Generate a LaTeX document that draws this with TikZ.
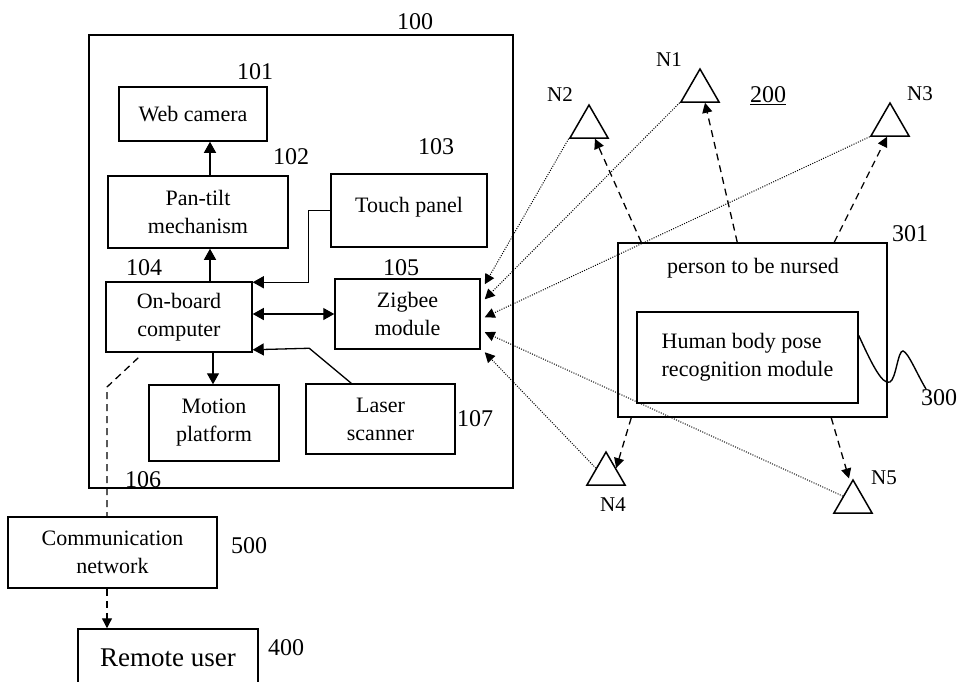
\documentclass[tikz,border=0pt]{standalone}
\usepackage{fontspec}
\setmainfont{Liberation Serif}
\usetikzlibrary{arrows.meta,calc,shapes.geometric}

\begin{document}
\begin{tikzpicture}[
            x=1pt, y=-1pt,
            block/.style={draw, line width=1.5pt, inner sep=2pt, align=center, font=\fontsize{22}{28}\selectfont},
            tag/.style={inner sep=0pt, font=\fontsize{24}{28}\selectfont},
            nodename/.style={inner sep=0pt, font=\fontsize{21}{24}\selectfont},
            sensor/.style={draw, line width=1.5pt, regular polygon, regular polygon sides=3, minimum size=44pt, inner sep=0pt},
            link/.style={line width=1.3pt, -{Triangle[length=11pt,width=12pt]}},
            radio/.style={line width=1.3pt, dash pattern=on 7pt off 5pt, -{Triangle[length=10pt,width=10pt]}},
            wireless/.style={line width=1pt, dash pattern=on 1pt off 1.4pt, -{Triangle[length=10pt,width=10pt]}},
        ]

            \useasboundingbox (0,0) rectangle (959,681);

            % robot 100
            \node[block, minimum width=424pt, minimum height=453pt] (robot) at (301,261.5) {};
            \node[tag] (robottag) at (415,22) {100};

            \node[block, minimum width=148pt, minimum height=54pt] (cam) at (193,114) {Web camera};
            \node[block, minimum width=180pt, minimum height=72pt] (pantilt) at (198,212) {Pan-tilt\\mechanism};
            \node[block, minimum width=156pt, minimum height=73pt, text depth=12pt] (touch) at (409,210.5) {Touch panel};
            \node[block, minimum width=146pt, minimum height=70pt] (comp) at (179,317) {On-board\\computer};
            \node[block, minimum width=145pt, minimum height=70pt] (zig) at (407.5,314) {Zigbee\\module};
            \node[block, minimum width=130pt, minimum height=76pt] (motion) at (214,423) {Motion\\platform};
            \node[block, minimum width=149pt, minimum height=70pt] (laser) at (380.5,419) {Laser\\scanner};

            \node[tag] (camtag) at (255,72) {101};
            \node[tag] (pantilttag) at (291,157) {102};
            \node[tag] (touchtag) at (436,147) {103};
            \node[tag] (comptag) at (144,268) {104};
            \node[tag] (zigtag) at (401,268) {105};
            \node[tag] (nettag) at (143,480) {106};
            \node[tag] (lasertag) at (475,419) {107};

            % network and remote user
            \node[block, minimum width=209pt, minimum height=71pt] (comm) at (112.5,552.5) {Communication\\network};
            \node[block, minimum width=180pt, minimum height=58pt, font=\fontsize{27}{30}\selectfont] (remote) at (168,658) {Remote user};
            \node[tag] (commtag) at (249,546) {500};
            \node[tag] (remotetag) at (286,648) {400};

            % wired links in the robot
            \draw[link] ([xshift=12pt]pantilt.north) -- ([xshift=12pt]pantilt.north |- cam.south);
            \draw[link] ([xshift=31pt]comp.north) -- ([xshift=31pt]comp.north |- pantilt.south);
            \draw[link] ([xshift=34pt]comp.south) -- ([xshift=34pt]comp.south |- motion.north);
            \draw[link] (touch.west) -- ++(-22,0) |- ([yshift=-1pt]comp.north east);
            \draw[link] ($(laser.north west)+(46,0)$) -- ++(-42,-35) -- ([yshift=3pt]comp.south east);
            \draw[link, {Triangle[length=11pt,width=12pt]}-{Triangle[length=11pt,width=12pt]}] (comp.east |- zig.west) -- (zig.west);

            \coordinate (bend) at (107,387);
            \draw[line width=1.3pt, dash pattern=on 7pt off 5pt] ($(comp.south west)+(33,5)$) -- (bend) -- (bend |- comm.north);
            \draw[radio] (bend |- comm.south) -- (bend |- remote.north);

            % person 301 with module 300
            \node[block, minimum width=269pt, minimum height=174pt] (nursed) at (752.5,330) {};
            \node[block, draw=none] (nursedtitle) at (753,268) {person to be nursed};
            \node[block, align=left, minimum width=221pt, minimum height=91pt] (pose) at (747.5,357.5) {Human body pose\\recognition module};
            \node[tag] (nursedtag) at (910,234) {301};
            \node[tag] (posetag) at (939,398) {300};
            \draw[line width=1.4pt] ([yshift=22pt]pose.east) .. controls (870,360) and (882,386) .. (890,382)
                .. controls (896,379) and (898,350) .. (903,351) .. controls (908,352) and (917,374) .. (926,389);

            % zigbee nodes 200
            \node[sensor] (N1) at (700,91) {};
            \node[sensor] (N2) at (589,127) {};
            \node[sensor] (N3) at (890,125) {};
            \node[sensor] (N4) at (606,474) {};
            \node[sensor] (N5) at (853,502) {};
            \node[nodename] (N1name) at (669,60) {N1};
            \node[nodename] (N2name) at (560,95) {N2};
            \node[nodename] (N3name) at (920,94) {N3};
            \node[nodename] (N4name) at (613,505) {N4};
            \node[nodename] (N5name) at (884,478) {N5};
            \node[tag] (areatag) at (768,96) {\underline{200}};

            \draw[radio] ($(nursed.north west)+(24,0)$) -- ([xshift=6pt]N2.south);
            \draw[radio] ($(nursed.north west)+(120,0)$) -- ([xshift=5pt]N1.south);
            \draw[radio] ($(nursed.north west)+(217,0)$) -- ([xshift=-3pt]N3.south);
            \draw[radio] ($(nursed.south west)+(14,0)$) -- (N4.side 3);
            \draw[radio] ($(nursed.south west)+(214,0)$) -- ([xshift=-4pt]N5.corner 1);

            \draw[wireless] (N2.corner 2) -- ($(zig.north east)+(4,6)$);
            \draw[wireless] (N1.corner 2) -- ($(zig.north east)+(4,21)$);
            \draw[wireless] (N3.corner 2) -- ($(zig.north east)+(4,39)$);
            \draw[wireless] (N5.side 1) -- ($(zig.north east)+(4,54)$);
            \draw[wireless] (N4.side 1) -- ($(zig.north east)+(4,74)$);
        \end{tikzpicture}
\end{document}
